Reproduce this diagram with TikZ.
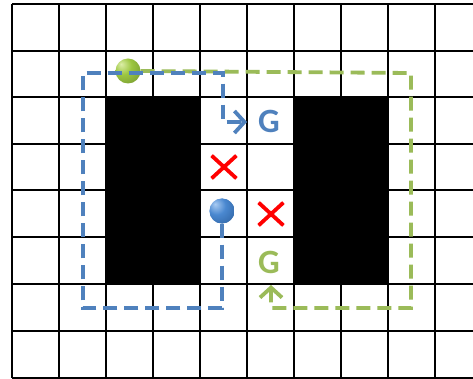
\documentclass[tikz,border=0pt]{standalone}
\usepackage{fontspec}
\setmainfont{Carlito}
\usetikzlibrary{arrows.meta,shapes.misc}
\definecolor{pathblue}{HTML}{4F81BD}
\definecolor{pathgreen}{HTML}{9BBB59}
\definecolor{gL}{HTML}{DCEEA8}
\definecolor{gM}{HTML}{9CC640}
\definecolor{gD}{HTML}{66862A}
\definecolor{bL}{HTML}{A9CBF2}
\definecolor{bM}{HTML}{4A88D0}
\definecolor{bD}{HTML}{24548F}
\pgfdeclareradialshading{greenballshade}{\pgfpoint{-14bp}{14bp}}{color(0bp)=(gL); color(18bp)=(gM); color(52bp)=(gD); color(80bp)=(gD)}
\pgfdeclareradialshading{blueballshade}{\pgfpoint{-14bp}{14bp}}{color(0bp)=(bL); color(18bp)=(bM); color(52bp)=(bD); color(80bp)=(bD)}
\begin{document}
\begin{tikzpicture}[x=1pt,y=-1pt,
  gridline/.style={line width=1.6pt,black},
  wall/.style={fill=black},
  route/.style={line width=3.8pt,dash pattern=on 14pt off 7pt},
  tip/.style={-{Straight Barb[length=10pt,width=22pt,line width=3.8pt]}},
  bluepath/.style={route,pathblue,tip},
  greenpath/.style={route,pathgreen,tip},
  agent/.style={circle,inner sep=0pt,minimum size=25pt,shade},
  goal/.style={font=\bfseries\fontsize{34}{34}\selectfont,inner sep=0pt},
  blocked/.style={cross out,draw=red,line width=3.8pt,minimum width=21pt,minimum height=19pt,inner sep=0pt}]
\useasboundingbox (0,0) rectangle (473,379);
\fill[white] (0,0) rectangle (473,379);
% walls
\fill[wall] (106,97) rectangle (200,284);
\fill[wall] (294,97) rectangle (388,284);
% grid
\foreach \x in {12,59,106,153,200,247,294,341,388,435}
  \draw[gridline] (\x,4) -- (\x,378);
\foreach \y in {4,51,97,144,190,237,284,331,378}
  \draw[gridline] (12,\y) -- (473,\y);
% green agent and its route
\node[agent,shading=greenballshade] (ballG) at (128,71) {};
\node[goal,text=pathgreen] (goalG) at (269,262) {G};
\coordinate (tipG) at (271,285);
\draw[greenpath] (ballG.east) -- (411,73) -- (411,308) -- (271,308) -- (tipG);
% blue route and agent
\node[goal,text=pathblue] (goalB) at (269,121) {G};
\coordinate (tipB) at (247,122);
\node[agent,shading=blueballshade] (ballB) at (222,211) {};
\draw[bluepath] (ballB.south) -- (222,308) -- (83,308) -- (83,73) -- (223,73) -- (223,122) -- (tipB);
\node[agent,shading=blueballshade] at (ballB) {};
% blocked cells
\node[blocked] (xone) at (224,167) {};
\node[blocked] (xtwo) at (271,214) {};
\end{tikzpicture}
\end{document}
